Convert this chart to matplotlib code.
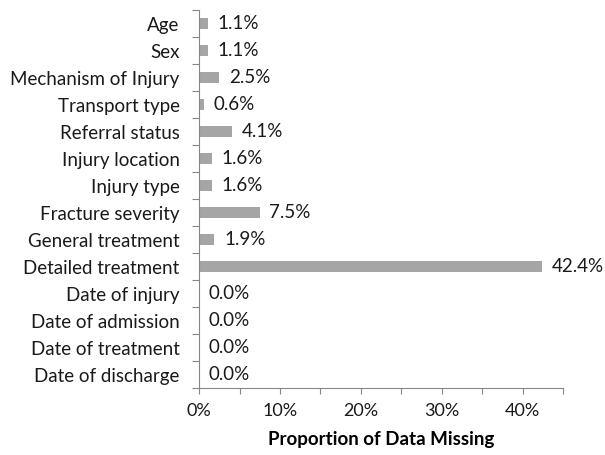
import matplotlib
matplotlib.use("Agg")
import matplotlib.pyplot as plt
from matplotlib.ticker import FixedLocator, FuncFormatter
import numpy as np

categories = ["Age", "Sex", "Mechanism of Injury", "Transport type", "Referral status",
              "Injury location", "Injury type", "Fracture severity", "General treatment",
              "Detailed treatment", "Date of injury", "Date of admission",
              "Date of treatment", "Date of discharge"]
values = [1.1, 1.1, 2.5, 0.6, 4.1, 1.6, 1.6, 7.5, 1.9, 42.4, 0.0, 0.0, 0.0, 0.0]
xticks = [0, 10, 20, 30, 40]

plt.rcParams['font.family'] = ['Lato', 'DejaVu Sans']

fig = plt.figure(figsize=(6.05, 4.55), dpi=100)
ax = fig.add_axes([0.329, 0.147, 0.602, 0.831])

n = len(categories)
y = np.arange(n)
ax.barh(y, values, height=0.4, color="#A5A5A5", zorder=2)
for yi, v in zip(y, values):
    ax.text(v + 1.2, yi, f"{v:.1f}%", va="center", ha="left", fontsize=13.5, color="#1a1a1a")

ax.set_ylim(n - 0.5, -0.5)
ax.set_xlim(0, 45)
ax.set_yticks(y)
ax.set_yticklabels(categories, fontsize=13.5, color="#1a1a1a")
ax.yaxis.set_minor_locator(FixedLocator(np.arange(-0.5, n, 1.0)))
ax.tick_params(axis="y", which="major", length=0, pad=14)
ax.tick_params(axis="y", which="minor", length=5, color="#868686", width=0.8)

ax.xaxis.set_major_locator(FixedLocator(xticks))
ax.xaxis.set_major_formatter(FuncFormatter(lambda v, p: f"{v:.0f}%"))
ax.xaxis.set_minor_locator(FixedLocator([5, 15, 25, 35, 45]))
ax.tick_params(axis="x", which="both", length=4, color="#868686", width=0.8, labelsize=13,
               labelcolor="#1a1a1a", pad=7)

for s in ["top", "right"]:
    ax.spines[s].set_visible(False)
for s in ["left", "bottom"]:
    ax.spines[s].set_color("#868686")
    ax.spines[s].set_linewidth(0.8)

ax.set_xlabel("Proportion of Data Missing", fontsize=13.5, fontweight="bold", labelpad=8)

fig.savefig("out.png", dpi=100)
